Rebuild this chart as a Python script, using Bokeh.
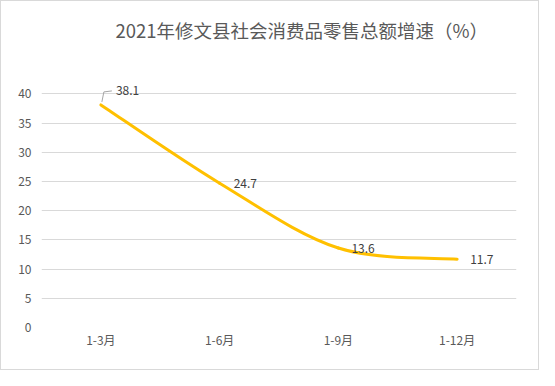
from bokeh.plotting import figure
from bokeh.models import (Range1d, FixedTicker, ColumnDataSource, LabelSet, Label)
from bokeh.core.properties import value
from bokeh.embed import file_html
from bokeh.resources import INLINE

# ---- data ----
categories = ["1-3月", "1-6月", "1-9月", "1-12月"]
growth = [38.1, 24.7, 13.6, 11.7]
y_ticks = [0, 5, 10, 15, 20, 25, 30, 35, 40]
title_text = "2021年修文县社会消费品零售总额增速（%）"

FONT = "Noto Sans CJK SC"
TEXT_COLOR = "#595959"
LINE_COLOR = "#FFC000"
GRID_COLOR = "#D9D9D9"

xs = [i + 0.5 for i in range(len(categories))]

FRAME_H = 326
Y_END = 55.8

p = figure(width=539, height=370, output_backend="svg", toolbar_location=None,
           x_range=Range1d(0, 4), y_range=Range1d(0, Y_END),
           min_border_left=40, min_border_right=24,
           min_border_top=0, min_border_bottom=44,
           styles={"border": "1px solid #D9D9D9"})
p.outline_line_color = None
p.background_fill_color = "white"
p.border_fill_color = "white"

title = Label(x=74, y=298, x_units="screen", y_units="screen", text=title_text,
              text_font=FONT, text_font_size="18.5px", text_color=TEXT_COLOR,
              text_align="left", text_baseline="middle")
p.add_layout(title)

# axes
xa = p.xaxis[0]
xa.ticker = FixedTicker(ticks=xs)
xa.major_label_overrides = {x: c for x, c in zip(xs, categories)}
ya = p.yaxis[0]
ya.ticker = FixedTicker(ticks=y_ticks)
for ax in (xa, ya):
    ax.axis_line_color = None
    ax.major_tick_line_color = None
    ax.minor_tick_line_color = None
    ax.major_label_text_font = FONT
    ax.major_label_text_font_size = "12px"
    ax.major_label_text_color = TEXT_COLOR
xa.major_label_standoff = -3
ya.major_label_standoff = 4

p.xgrid.grid_line_color = None
p.ygrid.grid_line_color = GRID_COLOR
p.ygrid.grid_line_width = 1

# smoothed line (Catmull-Rom style bezier, as Excel smoothing)
n = len(xs)
x0, y0, x1, y1, cx0, cy0, cx1, cy1 = [], [], [], [], [], [], [], []
for i in range(n - 1):
    pxm, pym = (xs[i - 1], growth[i - 1]) if i > 0 else (xs[i], growth[i])
    pxp, pyp = (xs[i + 2], growth[i + 2]) if i + 2 < n else (xs[i + 1], growth[i + 1])
    x0.append(xs[i]); y0.append(growth[i])
    x1.append(xs[i + 1]); y1.append(growth[i + 1])
    cx0.append(xs[i] + (xs[i + 1] - pxm) / 6); cy0.append(growth[i] + (growth[i + 1] - pym) / 6)
    cx1.append(xs[i + 1] - (pxp - xs[i]) / 6); cy1.append(growth[i + 1] - (pyp - growth[i]) / 6)
p.bezier(x0=x0, y0=y0, x1=x1, y1=y1, cx0=cx0, cy0=cy0, cx1=cx1, cy1=cy1,
         line_color=LINE_COLOR, line_width=3, line_cap="round")

# leader line for first label (pixel offsets converted to data units)
px_per_x = 475 / 4
px_per_y = FRAME_H / Y_END
lx = [xs[0] + 1 / px_per_x, xs[0] + 3 / px_per_x, xs[0] + 11 / px_per_x]
ly = [growth[0] + 3 / px_per_y, growth[0] + 13 / px_per_y, growth[0] + 14 / px_per_y]
p.line(lx, ly, line_color="#A6A6A6", line_width=1)

# data labels
src = ColumnDataSource(dict(x=xs, y=growth, t=[f"{v:.1f}" for v in growth],
                            xo=[15, 14, 13, 13], yo=[14, 0, 0, 0]))
labels = LabelSet(x="x", y="y", text="t", source=src, x_offset="xo", y_offset="yo",
                  text_font=value(FONT), text_font_size="12px", text_color="#404040",
                  text_baseline="middle", text_align="left")
p.add_layout(labels)

open("out.html", "w").write(file_html(p, INLINE))
